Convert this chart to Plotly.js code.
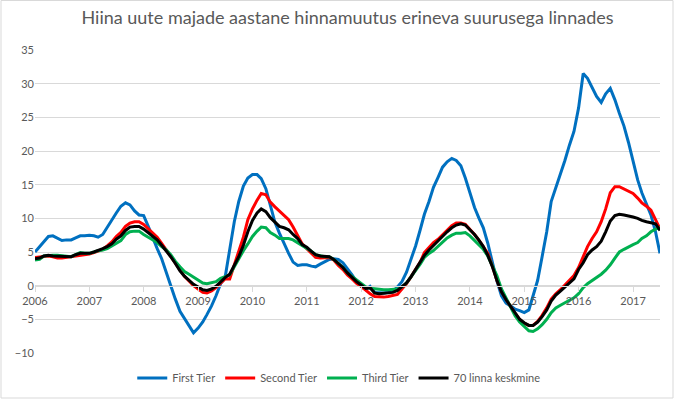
<!DOCTYPE html>
<html>
<head>
<meta charset="utf-8">
<script src="https://cdn.plot.ly/plotly-3.0.1.min.js"></script>
<style>
  html, body { margin: 0; padding: 0; background: #ffffff; }
  #chart { width: 675px; height: 399px; }
</style>
</head>
<body>
<div id="chart"></div>
<script>
// Monthly data, January 2006 .. July 2017
var startYear = 2006;
var yearTicks = [2006, 2007, 2008, 2009, 2010, 2011, 2012, 2013, 2014, 2015, 2016, 2017];

var firstTier = [
  5.0, 5.8, 6.6, 7.3, 7.4, 7.0, 6.7, 6.8, 6.8, 7.1, 7.4, 7.4,
  7.5, 7.4, 7.2, 7.6, 8.7, 9.8, 10.8, 11.8, 12.3, 12.0, 11.1, 10.5,
  10.4, 8.8, 7.1, 5.5, 4.0, 2.0, -0.2, -2.0, -3.8, -4.8, -6.0, -7.0,
  -6.3, -5.4, -4.3, -3.0, -1.5, 0.3, 1.2, 5.5, 9.5, 12.5, 14.8, 16.0,
  16.5, 16.5, 15.9, 14.4, 11.8, 9.4, 7.8, 6.2, 4.8, 3.5, 3.0, 3.1,
  3.1, 2.9, 2.8, 3.2, 3.6, 3.9, 4.0, 3.9, 3.4, 2.6, 1.6, 0.6,
  -0.1, -0.6, -0.1, -1.0, -1.1, -1.1, -1.0, -0.8, -0.2, 0.6, 2.0, 3.9,
  5.9, 8.3, 10.6, 12.5, 14.6, 16.1, 17.6, 18.4, 18.9, 18.6, 17.8, 16.0,
  13.6, 11.6, 10.1, 8.6, 6.3, 3.6, 0.7, -1.5, -2.6, -3.0, -3.5, -3.7,
  -4.0, -3.6, -1.5, 0.8, 4.3, 8.0, 12.5, 14.6, 16.4, 18.6, 20.9, 22.9,
  26.4, 31.5, 30.8, 29.5, 28.1, 27.2, 28.5, 29.3, 27.6, 25.6, 23.7, 21.3,
  18.5, 15.7, 13.8, 12.0, 10.5, 8.0, 4.8
];

var secondTier = [
  4.2, 4.3, 4.4, 4.4, 4.3, 4.1, 4.1, 4.2, 4.2, 4.4, 4.5, 4.6,
  4.7, 4.9, 5.1, 5.4, 5.9, 6.5, 7.3, 7.9, 8.8, 9.3, 9.5, 9.5,
  9.1, 8.4, 7.8, 7.2, 6.3, 5.3, 4.3, 3.3, 2.2, 1.4, 0.7, 0.0,
  -0.5, -1.0, -1.1, -0.8, -0.3, 0.4, 1.0, 1.0, 3.1, 4.9, 7.2, 9.8,
  11.4, 12.7, 13.7, 13.5, 12.4, 11.7, 11.1, 10.5, 9.8, 8.7, 7.5, 6.2,
  5.5, 4.8, 4.2, 4.1, 4.1, 4.2, 3.8, 3.0, 2.4, 1.6, 1.0, 0.35,
  -0.1, -0.7, -1.2, -1.6, -1.7, -1.7, -1.6, -1.5, -1.3, -0.5, 0.3, 1.3,
  2.4, 3.5, 4.9, 5.7, 6.4, 6.9, 7.6, 8.3, 8.9, 9.3, 9.3, 9.1,
  8.4, 7.6, 6.8, 5.8, 4.8, 2.9, 0.8, -0.9, -2.1, -3.1, -4.1, -5.0,
  -5.6, -5.9, -5.9, -5.3, -4.4, -3.3, -2.0, -1.2, -0.6, 0.1, 0.8, 1.5,
  2.7, 4.3, 5.8, 7.0, 8.0, 9.5, 11.4, 13.8, 14.7, 14.7, 14.4, 14.0,
  13.7, 13.0, 12.3, 11.8, 11.2, 9.8, 8.4
];

var thirdTier = [
  3.8, 3.9, 4.4, 4.5, 4.5, 4.5, 4.4, 4.3, 4.3, 4.6, 4.9, 4.8,
  4.8, 5.0, 5.2, 5.3, 5.5, 5.9, 6.3, 6.7, 7.6, 8.0, 8.1, 8.1,
  7.6, 7.2, 6.8, 6.4, 5.8, 5.3, 4.6, 3.6, 2.8, 2.1, 1.7, 1.3,
  0.8, 0.4, 0.3, 0.4, 0.6, 1.1, 1.3, 1.6, 2.8, 4.0, 5.2, 6.2,
  7.3, 8.1, 8.7, 8.6, 7.9, 7.5, 7.0, 7.0, 7.0, 6.8, 6.4, 6.0,
  5.6, 5.1, 4.6, 4.4, 4.3, 4.3, 3.9, 3.3, 2.7, 1.9, 1.4, 0.8,
  0.3, -0.2, -0.4, -0.5, -0.6, -0.6, -0.6, -0.6, -0.5, -0.2, 0.4, 1.3,
  2.2, 3.2, 4.2, 4.8, 5.2, 5.8, 6.5, 7.1, 7.5, 7.8, 7.8, 7.9,
  7.4, 6.7, 6.0, 5.4, 4.4, 3.0, 1.5, -0.5, -1.8, -3.2, -4.5, -5.4,
  -6.0, -6.7, -6.8, -6.4, -5.8, -5.0, -4.0, -3.3, -2.9, -2.5, -2.2, -1.8,
  -1.2, -0.3, 0.3, 0.75, 1.2, 1.7, 2.3, 3.1, 4.1, 5.0, 5.4, 5.8,
  6.1, 6.4, 7.0, 7.4, 8.0, 8.4, 8.6
];

var avg70 = [
  4.0, 4.1, 4.4, 4.5, 4.4, 4.4, 4.3, 4.3, 4.3, 4.6, 4.8, 4.8,
  4.8, 5.0, 5.2, 5.5, 5.8, 6.2, 6.9, 7.4, 8.2, 8.7, 8.8, 8.8,
  8.4, 7.9, 7.4, 6.8, 6.0, 5.2, 4.3, 3.3, 2.2, 1.4, 0.8, 0.2,
  -0.2, -0.6, -0.7, -0.5, -0.1, 0.6, 1.2, 1.7, 3.0, 4.3, 6.0, 8.0,
  9.7, 10.8, 11.4, 11.0, 10.1, 9.4, 8.8, 8.6, 8.3, 7.6, 7.0, 6.1,
  5.7, 5.1, 4.6, 4.4, 4.4, 4.3, 3.9, 3.3, 2.7, 1.9, 1.2, 0.6,
  0.1, -0.4, -0.3, -1.1, -1.2, -1.1, -1.1, -1.0, -0.7, -0.2, 0.4, 1.3,
  2.4, 3.3, 4.5, 5.3, 6.0, 6.6, 7.4, 8.0, 8.6, 9.0, 9.2, 9.0,
  8.3, 7.6, 6.8, 5.8, 4.5, 2.8, 0.8, -0.9, -2.1, -3.1, -4.1, -5.0,
  -5.5, -5.9, -5.9, -5.4, -4.6, -3.6, -2.3, -1.4, -0.8, -0.2, 0.5, 1.0,
  2.4, 3.4, 4.6, 5.3, 5.8, 6.6, 8.0, 9.6, 10.4, 10.6, 10.5, 10.4,
  10.2, 10.0, 9.7, 9.5, 9.4, 9.2, 8.2
];

var seriesNames = ['First Tier', 'Second Tier', 'Third Tier', '70 linna keskmine'];
var seriesColors = ['#0070C0', '#FF0000', '#00B050', '#000000'];
var titleText = 'Hiina uute majade aastane hinnamuutus erineva suurusega linnades';

function pad(n) { return (n < 10 ? '0' : '') + n; }
var dates = [];
for (var i = 0; i < firstTier.length; i++) {
  var y = startYear + Math.floor(i / 12);
  var m = (i % 12) + 1;
  dates.push(y + '-' + pad(m) + '-01');
}
var tickVals = yearTicks.map(function (y) { return y + '-01-01'; });
var tickText = yearTicks.map(function (y) { return String(y); });

var allSeries = [firstTier, secondTier, thirdTier, avg70];
var traces = allSeries.map(function (vals, k) {
  return {
    type: 'scatter',
    mode: 'lines',
    name: seriesNames[k],
    x: dates,
    y: vals,
    line: { color: seriesColors[k], width: 3 },
    hoverinfo: 'x+y+name'
  };
});

var font = 'Lato, "Open Sans", "DejaVu Sans", sans-serif';
var yMin = -10, yMax = 35;

var layout = {
  width: 675,
  height: 399,
  margin: { l: 35, r: 15, t: 50, b: 46, autoexpand: false },
  paper_bgcolor: '#ffffff',
  plot_bgcolor: '#ffffff',
  font: { family: font, size: 11, color: '#595959' },
  title: {
    text: titleText,
    font: { family: font, size: 18, color: '#595959' },
    x: 0.5,
    xref: 'paper',
    xanchor: 'center',
    y: 0.955,
    yanchor: 'middle'
  },
  showlegend: true,
  legend: {
    orientation: 'h',
    x: 0.486,
    xanchor: 'center',
    yref: 'container',
    y: 1 - 378 / 399,
    yanchor: 'middle',
    font: { family: font, size: 11, color: '#595959' },
    bgcolor: 'rgba(0,0,0,0)'
  },
  xaxis: {
    type: 'date',
    range: [dates[0], dates[dates.length - 1]],
    tickmode: 'array',
    tickvals: tickVals,
    ticktext: tickText,
    showgrid: false,
    zeroline: false,
    showline: true,
    linecolor: '#d9d9d9',
    linewidth: 1,
    ticks: 'outside',
    ticklen: 5,
    tickcolor: '#d9d9d9',
    tickfont: { family: font, size: 11, color: '#595959' },
    anchor: 'free',
    position: (0 - yMin) / (yMax - yMin),
    fixedrange: true
  },
  yaxis: {
    range: [yMin, yMax],
    dtick: 5,
    tick0: 0,
    showgrid: true,
    gridcolor: '#d9d9d9',
    gridwidth: 1,
    zeroline: false,
    showline: false,
    ticks: '',
    tickfont: { family: font, size: 11, color: '#595959' },
    fixedrange: true
  },
  shapes: [{
    type: 'rect',
    xref: 'paper', yref: 'paper',
    x0: (1 - 35) / 625, x1: (673 - 35) / 625,
    y0: (353 - 398) / 303, y1: (353 - 0.5) / 303,
    line: { color: '#d9d9d9', width: 1 },
    fillcolor: 'rgba(0,0,0,0)',
    layer: 'below'
  }]
};

Plotly.newPlot('chart', traces, layout, { displayModeBar: false, staticPlot: true });
</script>
</body>
</html>
